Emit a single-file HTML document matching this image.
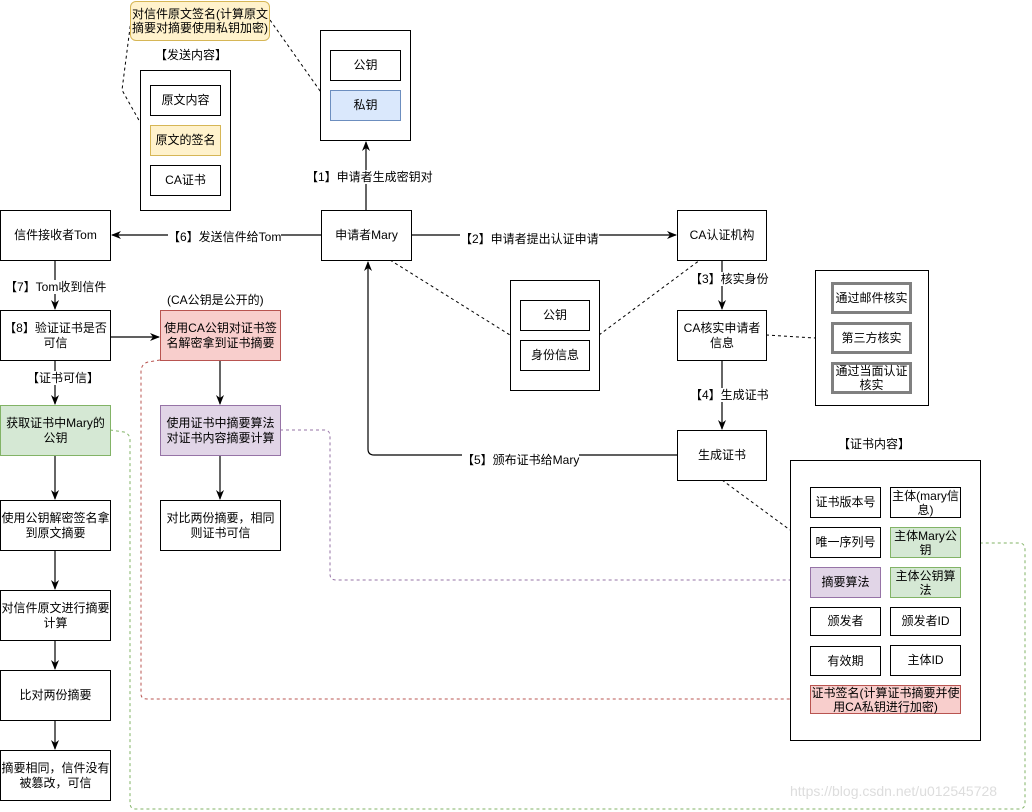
<!DOCTYPE html>
<html><head><meta charset="utf-8"><style>
body{margin:0;width:1032px;height:812px;background:#fff;position:relative;overflow:hidden;font-family:"Liberation Sans","Noto Sans CJK SC",sans-serif;font-size:12px;color:#000}
.b{position:absolute;box-sizing:border-box;border:1.5px solid #000;background:#fff;display:flex;align-items:center;justify-content:center;text-align:center;line-height:15px}
.c{position:absolute;box-sizing:border-box;border:1.5px solid #000;background:#fff}
.g{border:3px solid #808080}
.t{position:absolute;white-space:nowrap;background:#fff;line-height:14px}
.y{background:#fff2cc;border-color:#d6b656}
.bl{background:#dae8fc;border-color:#6c8ebf}
.r{background:#f8cecc;border-color:#b85450}
.p{background:#e1d5e7;border-color:#9673a6}
.gr{background:#d5e8d4;border-color:#82b366}
svg{position:absolute;left:0;top:0}
</style></head><body>
<svg width="1032" height="812">
<defs><marker id="a" markerWidth="10" markerHeight="10" refX="9" refY="5" orient="auto" markerUnits="userSpaceOnUse"><path d="M0,1 L10,5 L0,9 L3,5Z" fill="#000"/></marker></defs>
<g stroke="#000" stroke-width="1.2" fill="none">
<line x1="366" y1="210" x2="366" y2="142" marker-end="url(#a)"/>
<line x1="321" y1="235" x2="112" y2="235" marker-end="url(#a)"/>
<line x1="411" y1="235" x2="676" y2="235" marker-end="url(#a)"/>
<line x1="722" y1="260" x2="722" y2="309" marker-end="url(#a)"/>
<line x1="722" y1="360" x2="722" y2="429" marker-end="url(#a)"/>
<path d="M677,455 L374,455 Q368,455 368,449 L368,262" marker-end="url(#a)"/>
<line x1="55" y1="260" x2="55" y2="309" marker-end="url(#a)"/>
<line x1="110" y1="337" x2="159" y2="337" marker-end="url(#a)"/>
<line x1="55" y1="360" x2="55" y2="404" marker-end="url(#a)"/>
<line x1="220" y1="360" x2="220" y2="404" marker-end="url(#a)"/>
<line x1="220" y1="455" x2="220" y2="499" marker-end="url(#a)"/>
<line x1="55" y1="455" x2="55" y2="499" marker-end="url(#a)"/>
<line x1="55" y1="550" x2="55" y2="589" marker-end="url(#a)"/>
<line x1="55" y1="640" x2="55" y2="669" marker-end="url(#a)"/>
<line x1="55" y1="720" x2="55" y2="749" marker-end="url(#a)"/>
</g>
<g stroke="#000" stroke-width="1" fill="none" stroke-dasharray="3,3">
<line x1="270" y1="20" x2="330" y2="105"/>
<path d="M131,20 L122,90 L150,140"/>
<line x1="390" y1="260" x2="510" y2="335"/>
<line x1="599" y1="335" x2="700" y2="260"/>
<line x1="766" y1="335" x2="815" y2="338"/>
<line x1="722" y1="480" x2="790" y2="530"/>
</g>
<path d="M160,360 L148,362 Q141,364 141,372 L141,694 Q141,699 147,699 L810,699" stroke="#b85450" stroke-dasharray="3,3" fill="none"/>
<path d="M280,430 L324,430 Q330,430 330,436 L330,574 Q330,580 336,580 L810,580" stroke="#9673a6" stroke-dasharray="3,3" fill="none"/>
<path d="M110,430 L124,432 Q130,434 130,440 L130,803 Q130,809 136,809 L1019,809 Q1025,809 1025,803 L1025,550 Q1025,543 1019,543 L960,543" stroke="#82b366" stroke-dasharray="3,3" fill="none"/>
</svg>
<div class="b y" style="left:130px;top:1px;width:140px;height:40px;border-radius:6px;line-height:14px">对信件原文签名(计算原文<br>摘要对摘要使用私钥加密)</div>
<div class="t" style="left:155px;top:48px">【发送内容】</div>
<div class="c" style="left:140px;top:70px;width:91px;height:141px"></div>
<div class="b" style="left:150px;top:85px;width:71px;height:31px">原文内容</div>
<div class="b y" style="left:150px;top:125px;width:71px;height:31px">原文的签名</div>
<div class="b" style="left:150px;top:165px;width:71px;height:31px">CA证书</div>
<div class="c" style="left:320px;top:30px;width:91px;height:111px"></div>
<div class="b" style="left:330px;top:50px;width:71px;height:31px">公钥</div>
<div class="b bl" style="left:330px;top:90px;width:71px;height:31px">私钥</div>
<div class="t" style="left:306px;top:170px">【1】申请者生成密钥对</div>
<div class="b" style="left:321px;top:210px;width:91px;height:51px">申请者Mary</div>
<div class="b" style="left:0px;top:210px;width:111px;height:51px">信件接收者Tom</div>
<div class="t" style="left:168px;top:230px">【6】发送信件给Tom</div>
<div class="t" style="left:460px;top:232px">【2】申请者提出认证申请</div>
<div class="b" style="left:677px;top:210px;width:90px;height:51px">CA认证机构</div>
<div class="c" style="left:510px;top:280px;width:90px;height:111px"></div>
<div class="b" style="left:520px;top:300px;width:70px;height:31px">公钥</div>
<div class="b" style="left:520px;top:340px;width:70px;height:31px">身份信息</div>
<div class="t" style="left:690px;top:272px">【3】核实身份</div>
<div class="b" style="left:677px;top:310px;width:90px;height:51px">CA核实申请者<br>信息</div>
<div class="c" style="left:815px;top:270px;width:114px;height:136px"></div>
<div class="b g" style="left:831px;top:282px;width:81px;height:32px">通过邮件核实</div>
<div class="b g" style="left:831px;top:322px;width:81px;height:32px">第三方核实</div>
<div class="b g" style="left:831px;top:362px;width:81px;height:32px;line-height:14px">通过当面认证<br>核实</div>
<div class="t" style="left:690px;top:388px">【4】生成证书</div>
<div class="b" style="left:677px;top:430px;width:90px;height:51px">生成证书</div>
<div class="t" style="left:462px;top:453px">【5】颁布证书给Mary</div>
<div class="t" style="left:838px;top:437px">【证书内容】</div>
<div class="c" style="left:790px;top:460px;width:191px;height:281px"></div>
<div class="b" style="left:810px;top:487px;width:71px;height:31px">证书版本号</div>
<div class="b" style="left:890px;top:487px;width:71px;height:31px;line-height:14px">主体(mary信<br>息)</div>
<div class="b" style="left:810px;top:527px;width:71px;height:31px">唯一序列号</div>
<div class="b gr" style="left:890px;top:527px;width:71px;height:31px;line-height:14px">主体Mary公<br>钥</div>
<div class="b p" style="left:810px;top:567px;width:71px;height:31px">摘要算法</div>
<div class="b gr" style="left:890px;top:567px;width:71px;height:31px;line-height:14px">主体公钥算<br>法</div>
<div class="b" style="left:810px;top:607px;width:71px;height:29px">颁发者</div>
<div class="b" style="left:890px;top:607px;width:71px;height:29px">颁发者ID</div>
<div class="b" style="left:810px;top:646px;width:71px;height:30px">有效期</div>
<div class="b" style="left:890px;top:645px;width:71px;height:31px">主体ID</div>
<div class="b r" style="left:810px;top:685px;width:151px;height:29px;line-height:14px">证书签名(计算证书摘要并使<br>用CA私钥进行加密)</div>
<div class="t" style="left:5px;top:280px">【7】Tom收到信件</div>
<div class="b" style="left:0px;top:310px;width:111px;height:51px">【8】验证证书是否<br>可信</div>
<div class="t" style="left:167px;top:293px">(CA公钥是公开的)</div>
<div class="b r" style="left:160px;top:310px;width:121px;height:51px">使用CA公钥对证书签<br>名解密拿到证书摘要</div>
<div class="t" style="left:27px;top:371px">【证书可信】</div>
<div class="b gr" style="left:0px;top:405px;width:111px;height:51px">获取证书中Mary的<br>公钥</div>
<div class="b p" style="left:160px;top:405px;width:121px;height:51px">使用证书中摘要算法<br>对证书内容摘要计算</div>
<div class="b" style="left:160px;top:500px;width:121px;height:51px">对比两份摘要，相同<br>则证书可信</div>
<div class="b" style="left:0px;top:500px;width:111px;height:51px">使用公钥解密签名拿<br>到原文摘要</div>
<div class="b" style="left:0px;top:590px;width:111px;height:51px">对信件原文进行摘要<br>计算</div>
<div class="b" style="left:0px;top:670px;width:111px;height:51px">比对两份摘要</div>
<div class="b" style="left:0px;top:750px;width:111px;height:51px">摘要相同，信件没有<br>被篡改，可信</div>
<div class="t" style="left:790px;top:784px;color:#ddd;background:none;font-size:14px">https://blog.csdn.net/u012545728</div>
</body></html>
